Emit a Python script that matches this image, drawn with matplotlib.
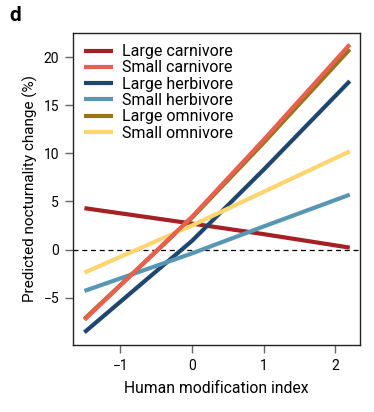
import numpy as np
import matplotlib
matplotlib.use("Agg")
import matplotlib.pyplot as plt

plt.rcParams['font.family'] = ['Roboto', 'DejaVu Sans']

# Predicted nocturnality change (%) read at a few human modification values
groups = ["Large carnivore", "Small carnivore", "Large herbivore",
          "Small herbivore", "Large omnivore", "Small omnivore"]
hmi = [-1.5, 0.0, 1.0, 2.2]
large_carnivore = [4.3, 2.7, 1.6, 0.2]
small_carnivore = [-7.3, 3.4, 11.4, 21.3]
large_herbivore = [-8.6, 0.9, 8.3, 17.5]
small_herbivore = [-4.3, -0.4, 2.4, 5.7]
large_omnivore = [-7.2, 3.3, 11.1, 20.8]
small_omnivore = [-2.4, 2.5, 6.0, 10.2]
series = [large_carnivore, small_carnivore, large_herbivore,
          small_herbivore, large_omnivore, small_omnivore]
colors = ["#a51f24", "#e8604f", "#1e4670", "#5896b5", "#9a7518", "#fdd56f"]
zorders = [2, 3, 2, 2, 2, 2]

fig, ax = plt.subplots(figsize=(3.74, 4.12), dpi=100)
fig.subplots_adjust(left=0.195, right=0.963, top=0.92, bottom=0.163)

ax.axhline(0, color='black', lw=0.9, ls=(0, (4, 3)), zorder=1)

for name, vals, c, z in zip(groups, series, colors, zorders):
    ax.plot(hmi, vals, color=c, lw=3, label=name,
            solid_capstyle='butt', solid_joinstyle='round', zorder=z)

ax.set_xlim(-1.66, 2.345)
ax.set_ylim(-9.9, 22.5)
ax.set_xticks([-1, 0, 1, 2])
ax.set_yticks([-5, 0, 5, 10, 15, 20])
ax.set_xticklabels(["\u22121", "0", "1", "2"])
ax.set_yticklabels(["\u22125", "0", "5", "10", "15", "20"])
ax.tick_params(direction='out', length=6, width=1, color='#666666',
               labelsize=10, pad=4)

for s in ax.spines.values():
    s.set_linewidth(1)
    s.set_color('#222222')

ax.set_xlabel("Human modification index", fontsize=11.3, labelpad=6)
ax.set_ylabel("Predicted nocturnality change (%)", fontsize=11, labelpad=4)

ax.legend(loc='upper left', frameon=False, fontsize=11.5, handlelength=1.8,
          handletextpad=0.55, labelspacing=0.08, borderaxespad=0.3,
          bbox_to_anchor=(0.0, 1.0))

fig.text(0.025, 0.95, "d", fontsize=15, fontweight='bold')

fig.savefig("out.png", dpi=100)
